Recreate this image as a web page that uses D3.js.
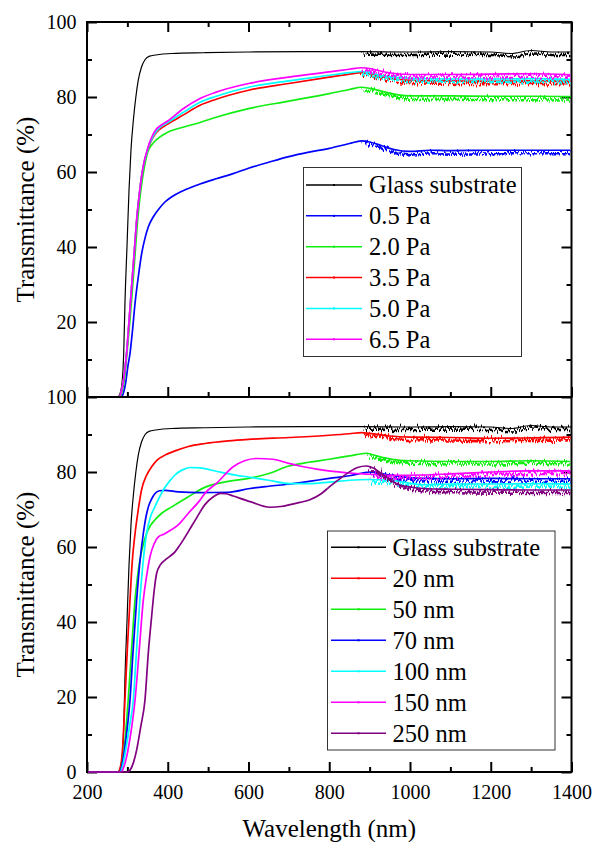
<!DOCTYPE html>
<html>
<head>
<meta charset="utf-8">
<script src="https://cdn.jsdelivr.net/npm/d3@7/dist/d3.min.js"></script>
</head>
<body style="margin:0">
<svg id="chart" width="593" height="842" style='font-family: "Liberation Serif", "Times New Roman", Tinos, FreeSerif, serif;'></svg>
<script>
// ---- Transmittance spectra: [wavelength (nm), transmittance (%)] ----
const glassSubstrate = [[200,0],[276,0],[282,1],[287,4],[291,12],[294,25],[299,40],[304,55],[309,66],[315,74],[321,80],[327,84.5],[335,88],[344,90],[355,90.9],[370,91.2],[410,91.6],[490,91.8],[600,92],[800,92.1],[880,92.1],[1000,92],[1100,92.1],[1200,92],[1250,91.6],[1300,92.4],[1350,92],[1400,92]];

// Panel (a): deposition pressure
const pa05 = [[200,0],[284,0],[290,1],[296,4],[301,8],[306.5,11.6],[312,17],[319,25],[327,32],[335.5,38.3],[344,42.5],[352,45.4],[364,48],[377,50],[393,52],[410,53.4],[430,54.6],[451,55.6],[480,56.8],[520,58.2],[560,59.5],[600,61],[650,62.6],[700,64.1],[750,65.3],[800,66.3],[850,67.6],[880,68.3],[900,68],[930,67],[960,66],[1000,65.5],[1050,65.8],[1100,65.7],[1200,65.8],[1300,65.8],[1400,65.8]];
const pa20 = [[200,0],[281,0],[287,1.5],[293,5],[299,11.6],[306,20],[313,29.4],[319,38],[325.5,47.2],[332,54],[338,58.7],[345,63],[352,65.8],[360,67.2],[368,68.2],[380,69.3],[400,70.6],[440,72],[480,73.2],[520,74.6],[600,76.9],[700,78.9],[800,80.9],[850,82],[880,82.6],[900,82.3],[940,81.3],[975,80.5],[1000,80.3],[1100,80.3],[1200,80.2],[1300,80.2],[1400,80.1]];
const pa35 = [[200,0],[280,0],[285,1.5],[291,5],[298,11.6],[304,20],[310.5,29.4],[317,38.5],[323,47.2],[329,53.5],[335,58.7],[341,62.3],[347.6,65],[354,67],[360,68.5],[370,70.3],[380,71.4],[400,72.8],[440,75.3],[480,77.8],[520,79.4],[600,81.8],[700,83.6],[800,85.3],[850,86.1],[880,86.5],[900,86.2],[940,85.2],[980,84.6],[1030,84.4],[1100,84.3],[1200,84.2],[1300,84.3],[1400,84.2]];
const pa50 = [[200,0],[280,0],[285,1.5],[291,5],[298,11.6],[304,20],[310.5,29.4],[317,38.5],[323,47.2],[329,53.5],[335,58.7],[341,62.3],[347.6,65],[354,67.2],[360,68.7],[370,70.6],[380,71.8],[400,73.2],[440,76],[480,78.6],[520,80.2],[600,82.6],[700,84.3],[800,85.8],[850,86.5],[880,86.8],[900,86.5],[940,85.5],[1000,85],[1100,84.8],[1200,84.8],[1300,84.9],[1400,84.7]];
const pa65 = [[200,0],[280,0],[285,1.5],[291,5],[298,11.6],[304,20],[310.5,29.4],[317,38.5],[323,47.2],[329,53.5],[335,58.7],[341,62.5],[347.6,65.3],[354,67.6],[360,69.2],[370,71.2],[380,72.2],[400,73.6],[440,77],[480,79.6],[520,81.3],[600,83.6],[700,85.3],[800,86.7],[850,87.4],[880,87.8],[900,87.6],[940,86.6],[1000,86],[1100,86],[1200,86.1],[1300,86.2],[1400,85.9]];

// Panel (b): film thickness
const nm20 = [[200,0],[277,0],[283,1.5],[288,6],[294,19.2],[300,33],[306.5,45.9],[312,56],[319,63.6],[327,70],[335,75.2],[347,79],[360,81.4],[375,83.3],[393,84.5],[420,85.7],[451,86.8],[492,87.6],[550,88.3],[600,88.7],[700,89.2],[800,89.8],[850,90.2],[880,90.5],[900,90.3],[950,89.6],[1000,89.3],[1100,89.2],[1200,89],[1300,89.1],[1400,89.3]];
const nm50 = [[200,0],[280,0],[286,1.5],[292,6],[302,19.2],[310,32],[319,45.9],[325,52],[331,56.5],[339,60.5],[347.6,63.6],[357,65.7],[368,67.2],[385,69],[410,70.7],[451,73.4],[492,75.9],[550,77.5],[600,78.3],[650,79.6],[700,81.6],[750,82.6],[800,83.4],[850,84.3],[892,85],[920,84.2],[960,83.3],[1000,83],[1100,82.8],[1200,82.8],[1300,83],[1400,82.8]];
const nm70 = [[200,0],[280,0],[286,1.5],[293,6],[300,12],[306.5,19.2],[314,32],[323,45.9],[331,56],[339.5,63.6],[346,68],[352,70.7],[360,72.8],[368,74.2],[380,75],[393,75.1],[426,74.7],[480,74.5],[550,74.6],[604,75.6],[650,76.2],[703,76.8],[750,77.5],[800,78.3],[850,79],[901,80],[950,79.2],[1000,78.5],[1033,78.3],[1100,78.2],[1200,78.3],[1300,78.2],[1400,78.2]];
const nm100 = [[200,0],[282,0],[288,1.5],[296,6],[305,12],[314.7,19.2],[323,33],[331,45.9],[339,56],[347.6,63.6],[357,68],[368,70.7],[389,75.2],[404,77.5],[418,79.2],[435,80.5],[455,81.2],[480,81.1],[520,80.2],[560,79.3],[604,78.6],[650,77.8],[703,76.9],[750,76.9],[800,77.3],[850,77.8],[900,78],[950,77.8],[1000,77],[1033,76.6],[1100,76.8],[1200,76.8],[1300,76.9],[1400,76.8]];
const nm150 = [[200,0],[285,0],[290,1],[298,4],[308,10],[319,19.2],[329,32],[339.5,45.9],[348,52.5],[356,57.4],[366,60.8],[376.6,62.7],[390,63.4],[401,64.1],[426,65.9],[451,69],[480,72.5],[492,74.3],[521,77],[562,81.4],[590,83],[620,83.6],[660,83.4],[700,82.3],[727,81.6],[785,80.5],[868,79.6],[900,79.4],[950,79.1],[1033,79.2],[1100,79.5],[1200,80],[1300,80.3],[1400,80.3]];
const nm250 = [[200,0],[300,0],[306.5,0.5],[315,2.5],[323,5.9],[333,12],[343.6,19.2],[352,32],[360,41.4],[366,48],[372.5,53],[382,55.3],[393,56.5],[405,57.5],[418,58.7],[430,60.5],[451,64.1],[470,67.5],[492,71.3],[513,73.4],[530,74.3],[545,74.2],[562,73.6],[604,72.1],[653,70.6],[680,70.8],[703,71.3],[727,71.9],[752,72.6],[780,74.2],[801,76.1],[830,78.5],[851,80.1],[870,81.2],[892,81.6],[910,81],[934,79.2],[955,77.6],[975,76.5],[1000,76],[1033,75.6],[1100,75.4],[1200,75.3],[1300,75.2],[1400,75.2]];

// Legend labels and colours
const labelsTop = ["Glass substrate", "0.5 Pa", "2.0 Pa", "3.5 Pa", "5.0 Pa", "6.5 Pa"];
const colorsTop = ["#000000", "#0000ff", "#11ee11", "#ff0000", "#00ffff", "#ff00ff"];
const labelsBottom = ["Glass substrate", "20 nm", "50 nm", "70 nm", "100 nm", "150 nm", "250 nm"];
const colorsBottom = ["#000000", "#ff0000", "#11ee11", "#0000ff", "#00ffff", "#ff00ff", "#800080"];

// Axis ticks
const xMajor = [200, 400, 600, 800, 1000, 1200, 1400];
const xMinor = [300, 500, 700, 900, 1100, 1300];
const yMajorTop = [20, 40, 60, 80, 100];
const yMajorBottom = [0, 20, 40, 60, 80, 100];
const yMinor = [10, 30, 50, 70, 90];

const seriesTop = [glassSubstrate, pa05, pa20, pa35, pa50, pa65];
const seriesBottom = [glassSubstrate, nm20, nm50, nm70, nm100, nm150, nm250];

const SERIF = '"Liberation Serif", "Times New Roman", Tinos, FreeSerif, serif';

// ---- Layout ----
const svg = d3.select("#chart");
const left = 87, right = 571.5;
const x = d3.scaleLinear().domain([200, 1400]).range([left, right]);
const panels = [
  { top: 22, bottom: 397, series: seriesTop, labels: labelsTop, colors: colorsTop,
    yTicks: yMajorTop, topTicks: true, xLabels: false,
    legend: { x: 303.5, y: 167.5, w: 218, h: 189, row0: 185, step: 30.85, lineX0: 306, lineX1: 362, textX: 369 } },
  { top: 397, bottom: 772, series: seriesBottom, labels: labelsBottom, colors: colorsBottom,
    yTicks: yMajorBottom, topTicks: false, xLabels: true,
    legend: { x: 327.5, y: 531, w: 227.5, h: 219, row0: 547.3, step: 31.0, lineX0: 331, lineX1: 386, textX: 392.5 } }
];

// Measurement scatter in the NIR part of each spectrum, rendered as a displacement filter
const defs = svg.append("defs");
const noiseSeeds = [3, 11, 19, 27, 35, 43, 51];
noiseSeeds.forEach((s, i) => {
  const f = defs.append("filter").attr("id", "noise" + i)
    .attr("filterUnits", "userSpaceOnUse")
    .attr("x", 0).attr("y", 0).attr("width", 593).attr("height", 842);
  f.append("feTurbulence").attr("type", "turbulence")
    .attr("baseFrequency", "0.7 0.02").attr("numOctaves", 2).attr("seed", s).attr("result", "t");
  f.append("feDisplacementMap").attr("in", "SourceGraphic").attr("in2", "t")
    .attr("scale", 10).attr("xChannelSelector", "G").attr("yChannelSelector", "R");
});

const setFont = (sel, size) => sel
  .attr("font-family", SERIF).style("font-family", SERIF)
  .attr("font-size", size).attr("fill", "#000");

const styleAxis = sel => {
  sel.attr("font-family", SERIF).style("font-family", SERIF).attr("font-size", 20);
  sel.select(".domain").remove();
  sel.selectAll(".tick line").attr("stroke", "#000").attr("stroke-width", 2);
  setFont(sel.selectAll(".tick text"), 20);
};

panels.forEach((p, pi) => {
  const y = d3.scaleLinear().domain([0, 100]).range([p.bottom, p.top]);
  const g = svg.append("g");

  // Axes: ticks pointing inward
  g.append("g").attr("transform", `translate(${left},0)`)
    .call(d3.axisLeft(y).tickValues(p.yTicks).tickSizeInner(-10).tickSizeOuter(0).tickPadding(10.5).tickFormat(d3.format("d")))
    .call(styleAxis);
  g.append("g").attr("transform", `translate(${left},0)`)
    .call(d3.axisLeft(y).tickValues(yMinor).tickSizeInner(-5).tickSizeOuter(0).tickFormat(""))
    .call(styleAxis);
  g.append("g").attr("transform", `translate(${right},0)`)
    .call(d3.axisRight(y).tickValues(p.yTicks).tickSizeInner(-10).tickSizeOuter(0).tickFormat(""))
    .call(styleAxis);
  g.append("g").attr("transform", `translate(${right},0)`)
    .call(d3.axisRight(y).tickValues(yMinor).tickSizeInner(-5).tickSizeOuter(0).tickFormat(""))
    .call(styleAxis);

  const xb = d3.axisBottom(x).tickValues(xMajor).tickSizeInner(-10).tickSizeOuter(0).tickPadding(12.5)
    .tickFormat(p.xLabels ? d3.format("d") : "");
  g.append("g").attr("transform", `translate(0,${p.bottom})`).call(xb).call(styleAxis);
  g.append("g").attr("transform", `translate(0,${p.bottom})`)
    .call(d3.axisBottom(x).tickValues(xMinor).tickSizeInner(-5).tickSizeOuter(0).tickFormat(""))
    .call(styleAxis);
  if (p.topTicks) {
    g.append("g").attr("transform", `translate(0,${p.top})`)
      .call(d3.axisTop(x).tickValues(xMajor).tickSizeInner(-10).tickSizeOuter(0).tickFormat(""))
      .call(styleAxis);
    g.append("g").attr("transform", `translate(0,${p.top})`)
      .call(d3.axisTop(x).tickValues(xMinor).tickSizeInner(-5).tickSizeOuter(0).tickFormat(""))
      .call(styleAxis);
  }

  // Frame
  g.append("rect").attr("x", left).attr("y", p.top)
    .attr("width", right - left).attr("height", p.bottom - p.top)
    .attr("fill", "none").attr("stroke", "#000").attr("stroke-width", 2);

  // Spectra, drawn over the frame so the zero baseline stays visible
  const clipId = "clip" + pi;
  defs.append("clipPath").attr("id", clipId).append("rect")
    .attr("x", left + 1).attr("y", p.top + 1).attr("width", right - left - 2).attr("height", p.bottom - p.top + 1);

  const line = d3.line().x(d => x(d[0])).y(d => y(d[1])).curve(d3.curveMonotoneX);
  const plot = g.append("g").attr("clip-path", `url(#${clipId})`);

  p.series.forEach((data, i) => {
    const color = p.colors[i];
    const w = i === 0 ? 1.2 : 1.7;
    const idx = data.findIndex(d => d[0] >= 880);
    const noisy = data.slice(idx);
    plot.append("path").datum(data).attr("d", line)
      .attr("fill", "none").attr("stroke", color).attr("stroke-width", w);
    plot.append("path").datum(noisy).attr("d", line)
      .attr("fill", "none").attr("stroke", color).attr("stroke-width", 2.6)
      .attr("filter", `url(#noise${i % noiseSeeds.length})`);
  });

  // Y axis title
  g.append("text")
    .attr("transform", `translate(34,${(p.top + p.bottom) / 2}) rotate(-90)`)
    .attr("text-anchor", "middle")
    .call(setFont, 25)
    .text("Transmittance (%)");

  // Legend
  const L = p.legend;
  const lg = g.append("g");
  lg.append("rect").attr("x", L.x).attr("y", L.y).attr("width", L.w).attr("height", L.h)
    .attr("fill", "#fff").attr("stroke", "#333").attr("stroke-width", 1);
  p.labels.forEach((lab, i) => {
    const ry = L.row0 + i * L.step;
    lg.append("line").attr("x1", L.lineX0).attr("x2", L.lineX1).attr("y1", ry).attr("y2", ry)
      .attr("stroke", p.colors[i]).attr("stroke-width", 1.5);
    lg.append("rect").attr("x", (L.lineX0 + L.lineX1) / 2 - 1).attr("y", ry - 1).attr("width", 2).attr("height", 2)
      .attr("fill", p.colors[i]);
    lg.append("text").attr("x", L.textX).attr("y", ry + 8.3)
      .call(setFont, 24.5)
      .text(lab);
  });
});

// X axis title
svg.append("text").attr("x", (left + right) / 2).attr("y", 836.5)
  .attr("text-anchor", "middle")
  .call(setFont, 25)
  .text("Wavelength (nm)");
</script>
</body>
</html>
